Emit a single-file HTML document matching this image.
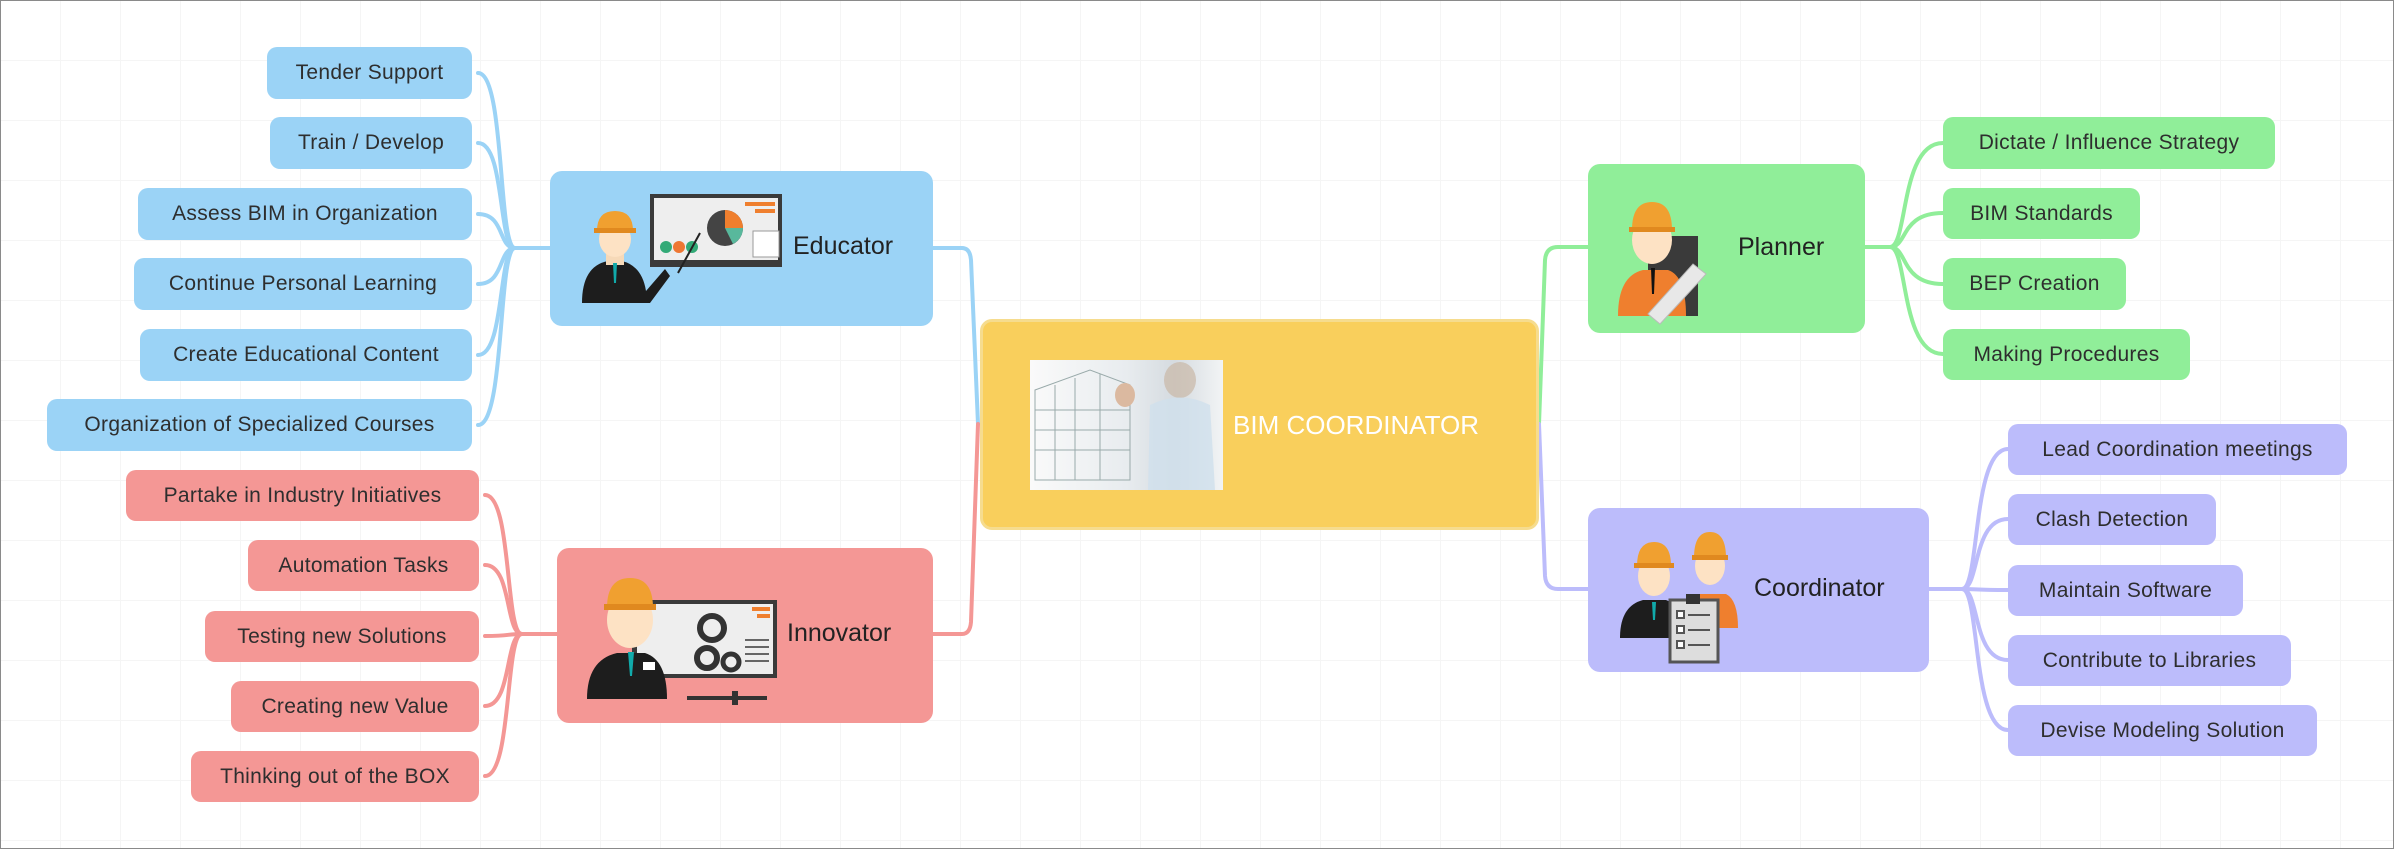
<!DOCTYPE html>
<html><head><meta charset="utf-8"><style>
html,body{margin:0;padding:0}
body{width:2394px;height:849px;position:relative;overflow:hidden;background:#fff;font-family:"Liberation Sans",sans-serif;
background-image:linear-gradient(#f5f5f5 1px,transparent 1px),linear-gradient(90deg,#f5f5f5 1px,transparent 1px);background-size:60px 60px;}
.frame{position:absolute;left:0;top:0;width:2392px;height:847px;border:1px solid #8a8a8a}
.n{position:absolute;display:flex;align-items:center;justify-content:center;color:#2e2e2e;font-size:21px;border-radius:10px;box-sizing:border-box;white-space:nowrap;letter-spacing:0.3px}
.b{background:#9bd3f6}.r{background:#f49795}.g{background:#90ee99}.p{background:#bcbcfb}
.m{position:absolute;border-radius:12px;font-size:25px;color:#222}
.m span{position:absolute}
svg{position:absolute;left:0;top:0}
</style></head><body>
<div class="frame"></div>
<svg width="2394" height="849" fill="none" stroke-width="4" stroke-linecap="round">
<g stroke="#9bd3f6">
<path d="M550 248 L515 248"/>
<path d="M515 248 C498 248 505 73 478 73"/>
<path d="M515 248 C498 248 505 143 478 143"/>
<path d="M515 248 C498 248 505 214 478 214"/>
<path d="M515 248 C498 248 505 284 478 284"/>
<path d="M515 248 C498 248 505 355 478 355"/>
<path d="M515 248 C498 248 505 425 478 425"/>
<path d="M933 248 L962 248 Q970 248 971 260 L978 424"/>
</g>
<g stroke="#f49795">
<path d="M557 634 L522 634"/>
<path d="M522 634 C505 634 512 495 485 495"/>
<path d="M522 634 C505 634 512 565 485 565"/>
<path d="M522 634 C505 634 512 636 485 636"/>
<path d="M522 634 C505 634 512 706 485 706"/>
<path d="M522 634 C505 634 512 776 485 776"/>
<path d="M933 634 L962 634 Q970 634 971 622 L978 424"/>
</g>
<g stroke="#90ee99">
<path d="M1539 424 L1545 260 Q1546 247 1558 247 L1588 247"/>
<path d="M1865 247 L1890 247"/>
<path d="M1890 247 C1908 247 1900 143 1943 143"/>
<path d="M1890 247 C1908 247 1900 213 1943 213"/>
<path d="M1890 247 C1908 247 1900 284 1943 284"/>
<path d="M1890 247 C1908 247 1900 354 1943 354"/>
</g>
<g stroke="#bcbcfb">
<path d="M1539 424 L1545 576 Q1546 589 1558 589 L1588 589"/>
<path d="M1929 589 L1962 589"/>
<path d="M1962 589 C1980 589 1972 449 2008 449"/>
<path d="M1962 589 C1980 589 1972 519 2008 519"/>
<path d="M1962 589 C1980 589 1972 590 2008 590"/>
<path d="M1962 589 C1980 589 1972 660 2008 660"/>
<path d="M1962 589 C1980 589 1972 730 2008 730"/>
</g>
</svg>

<!-- Educator children -->
<div class="n b" style="left:267px;top:47px;width:205px;height:52px">Tender Support</div>
<div class="n b" style="left:270px;top:117px;width:202px;height:52px">Train / Develop</div>
<div class="n b" style="left:138px;top:188px;width:334px;height:52px">Assess BIM in Organization</div>
<div class="n b" style="left:134px;top:258px;width:338px;height:52px">Continue Personal Learning</div>
<div class="n b" style="left:140px;top:329px;width:332px;height:52px">Create Educational Content</div>
<div class="n b" style="left:47px;top:399px;width:425px;height:52px">Organization of Specialized Courses</div>
<!-- Innovator children -->
<div class="n r" style="left:126px;top:470px;width:353px;height:51px">Partake in Industry Initiatives</div>
<div class="n r" style="left:248px;top:540px;width:231px;height:51px">Automation Tasks</div>
<div class="n r" style="left:205px;top:611px;width:274px;height:51px">Testing new Solutions</div>
<div class="n r" style="left:231px;top:681px;width:248px;height:51px">Creating new Value</div>
<div class="n r" style="left:191px;top:751px;width:288px;height:51px">Thinking out of the BOX</div>
<!-- Planner children -->
<div class="n g" style="left:1943px;top:117px;width:332px;height:52px">Dictate / Influence Strategy</div>
<div class="n g" style="left:1943px;top:188px;width:197px;height:51px">BIM Standards</div>
<div class="n g" style="left:1943px;top:258px;width:183px;height:52px">BEP Creation</div>
<div class="n g" style="left:1943px;top:329px;width:247px;height:51px">Making Procedures</div>
<!-- Coordinator children -->
<div class="n p" style="left:2008px;top:424px;width:339px;height:51px">Lead Coordination meetings</div>
<div class="n p" style="left:2008px;top:494px;width:208px;height:51px">Clash Detection</div>
<div class="n p" style="left:2008px;top:565px;width:235px;height:51px">Maintain Software</div>
<div class="n p" style="left:2008px;top:635px;width:283px;height:51px">Contribute to Libraries</div>
<div class="n p" style="left:2008px;top:705px;width:309px;height:51px">Devise Modeling Solution</div>

<!-- Educator -->
<div class="m b" style="left:550px;top:171px;width:383px;height:155px">
<svg width="383" height="155" style="left:0;top:0">
<rect x="100" y="23" width="132" height="73" fill="#3a3a3a"/>
<rect x="104" y="27" width="124" height="62" fill="#eeeeee"/>
<circle cx="175" cy="57" r="18" fill="#444"/>
<path d="M175 57 L175 39 A18 18 0 0 1 193 57 Z" fill="#ef7f2e"/>
<path d="M175 57 L193 57 A18 18 0 0 1 183 73 Z" fill="#58b89c"/>
<rect x="195" y="31" width="30" height="4" fill="#ef7f2e"/><rect x="205" y="38" width="20" height="4" fill="#ef7f2e"/>
<rect x="203" y="60" width="26" height="26" fill="#fff" stroke="#999" stroke-width="1"/>
<circle cx="116" cy="76" r="6" fill="#3a7"/><circle cx="129" cy="76" r="6" fill="#e73"/><circle cx="142" cy="76" r="6" fill="#3a7"/>
<line x1="150" y1="62" x2="128" y2="102" stroke="#222" stroke-width="2"/>
<path d="M32 132 Q32 95 58 90 L72 90 Q92 95 96 120 L115 98 L120 105 L100 132 Z" fill="#1d1d1d"/>
<rect x="56" y="80" width="18" height="14" fill="#f6d9b8"/>
<ellipse cx="65" cy="68" rx="16" ry="18" fill="#fde2c4"/>
<path d="M47 60 Q47 40 65 40 Q83 40 83 60 Z" fill="#f0a030"/>
<rect x="44" y="57" width="42" height="5" fill="#e0891f"/>
<path d="M63 92 L67 92 L66 112 L64 112 Z" fill="#1aa"/>
</svg>
<span style="left:243px;top:61px">Educator</span></div>

<!-- Innovator -->
<div class="m r" style="left:557px;top:548px;width:376px;height:175px">
<svg width="376" height="175" style="left:0;top:0">
<rect x="75" y="52" width="145" height="78" fill="#3a3a3a"/>
<rect x="80" y="56" width="136" height="70" fill="#eeeeee"/>
<rect x="175" y="143" width="6" height="14" fill="#333"/>
<path d="M130 148 L210 148 L210 152 L130 152 Z" fill="#333"/>
<circle cx="155" cy="80" r="12" fill="none" stroke="#333" stroke-width="6"/>
<circle cx="150" cy="110" r="10" fill="none" stroke="#333" stroke-width="6"/>
<circle cx="174" cy="114" r="8" fill="none" stroke="#333" stroke-width="5"/>
<rect x="195" y="59" width="18" height="4" fill="#ef7f2e"/><rect x="200" y="66" width="13" height="4" fill="#ef7f2e"/>
<g stroke="#666" stroke-width="2"><line x1="188" y1="92" x2="212" y2="92"/><line x1="188" y1="99" x2="212" y2="99"/><line x1="188" y1="106" x2="212" y2="106"/><line x1="188" y1="113" x2="212" y2="113"/></g>
<path d="M30 151 Q30 112 60 105 L88 105 Q110 112 110 151 Z" fill="#1d1d1d"/>
<ellipse cx="73" cy="72" rx="23" ry="28" fill="#fde2c4"/>
<path d="M50 60 Q50 30 73 30 Q96 30 96 60 Z" fill="#f0a030"/>
<rect x="47" y="56" width="52" height="6" fill="#e0891f"/>
<path d="M71 104 L77 104 L75 128 L73 128 Z" fill="#1aa"/>
<rect x="86" y="114" width="12" height="8" fill="#fff"/>
</svg>
<span style="left:230px;top:71px">Innovator</span></div>

<!-- Central -->
<div class="m" style="left:980px;top:319px;width:559px;height:211px;background:#f9cf5c;border:3px solid #f6dc8e;box-sizing:border-box">
<div style="position:absolute;left:47px;top:38px;width:193px;height:130px;background:linear-gradient(90deg,#fafafa 0%,#e8ecef 50%,#d5dbe0 75%,#f2f4f5 100%)">
<svg width="193" height="130" style="left:0;top:0" stroke="#9aa" stroke-width="1" fill="none">
<path d="M5 30 L60 10 L100 25 L100 120 L5 120 Z"/><path d="M5 50 L100 50 M5 70 L100 70 M5 90 L100 90 M25 25 L25 120 M45 18 L45 120 M70 14 L70 120"/>
<ellipse cx="150" cy="20" rx="16" ry="18" fill="#c9b8a6" stroke="none" opacity="0.7"/>
<path d="M120 45 Q150 30 180 45 L185 130 L118 130 Z" fill="#cfe0ec" stroke="none" opacity="0.8"/>
<ellipse cx="95" cy="35" rx="10" ry="12" fill="#dbb9a0" stroke="none"/>
</svg></div>
<span style="left:250px;top:88px;color:#fff;font-size:26px">BIM COORDINATOR</span></div>

<!-- Planner -->
<div class="m g" style="left:1588px;top:164px;width:277px;height:169px">
<svg width="277" height="169" style="left:0;top:0">
<rect x="60" y="72" width="50" height="80" fill="#3a3a3a"/>
<path d="M30 152 Q30 112 55 106 L80 106 Q98 112 98 152 Z" fill="#ef7f2e"/>
<ellipse cx="64" cy="76" rx="20" ry="24" fill="#fde2c4"/>
<path d="M44 66 Q44 38 64 38 Q84 38 84 66 Z" fill="#f0a030"/>
<rect x="41" y="63" width="46" height="5" fill="#e0891f"/>
<path d="M63 104 L67 104 L66 130 L64 130 Z" fill="#111"/>
<path d="M60 150 L105 100 L118 110 L72 160 Z" fill="#e8e8e8" stroke="#bbb"/>
</svg>
<span style="left:150px;top:69px">Planner</span></div>

<!-- Coordinator -->
<div class="m p" style="left:1588px;top:508px;width:341px;height:164px">
<svg width="341" height="164" style="left:0;top:0">
<path d="M90 120 Q90 90 110 86 L138 86 Q150 92 150 120 Z" fill="#ef7f2e"/>
<ellipse cx="122" cy="58" rx="15" ry="19" fill="#fde2c4"/>
<path d="M106 50 Q106 24 122 24 Q138 24 138 50 Z" fill="#f0a030"/>
<rect x="104" y="47" width="36" height="5" fill="#e0891f"/>
<path d="M32 130 Q32 98 55 92 L78 92 Q96 98 96 130 Z" fill="#1d1d1d"/>
<ellipse cx="66" cy="68" rx="16" ry="20" fill="#fde2c4"/>
<path d="M49 58 Q49 34 66 34 Q83 34 83 58 Z" fill="#f0a030"/>
<rect x="46" y="55" width="40" height="5" fill="#e0891f"/>
<path d="M64 94 L68 94 L67 112 L65 112 Z" fill="#1aa"/>
<rect x="82" y="92" width="48" height="62" fill="#ddd" stroke="#555" stroke-width="3"/>
<rect x="98" y="86" width="14" height="10" fill="#333"/>
<g stroke="#555" stroke-width="2"><rect x="89" y="103" width="7" height="7" fill="#fff"/><line x1="100" y1="107" x2="122" y2="107"/><rect x="89" y="118" width="7" height="7" fill="#fff"/><line x1="100" y1="122" x2="122" y2="122"/><rect x="89" y="133" width="7" height="7" fill="#fff"/><line x1="100" y1="137" x2="122" y2="137"/></g>
</svg>
<span style="left:166px;top:66px">Coordinator</span></div>
</body></html>
